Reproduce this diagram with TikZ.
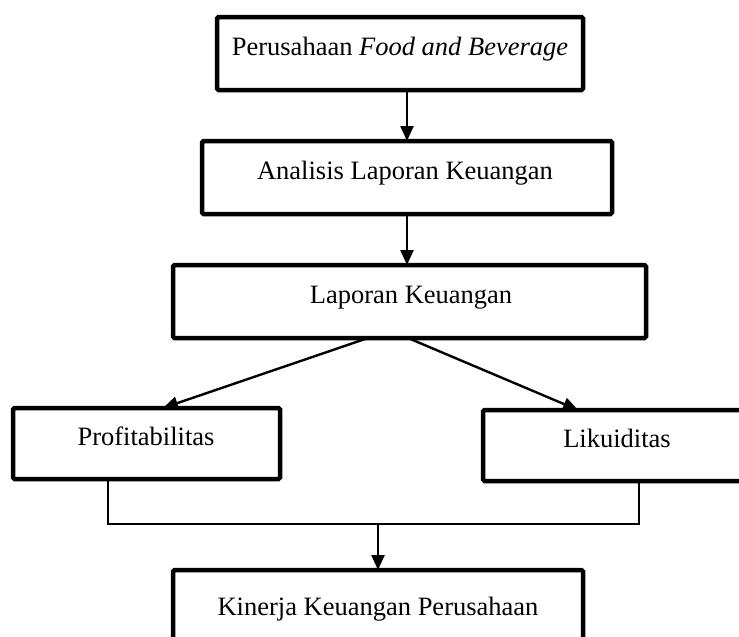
\documentclass[tikz,border=0pt]{standalone}
\usepackage{fontspec}
\setmainfont{Liberation Serif}
\usetikzlibrary{arrows.meta,calc}
\begin{document}
\begin{tikzpicture}[x=1pt,y=-1pt,
  box/.style={draw,line width=4.5pt,rounded corners=1.5pt,inner sep=0pt,outer sep=0pt,anchor=north west},
  lbl/.style={anchor=base,inner sep=0pt,font=\fontsize{26.5}{30}\selectfont},
  arr/.style={line width=2.4pt,-{Triangle[length=15pt,width=13pt]}},
  thin/.style={line width=1.3pt}]
\useasboundingbox (0,0) rectangle (739,637);
\clip (0,0) rectangle (739,637);
\fill[white] (0,0) rectangle (739,637);
% boxes
\node[box,minimum width=366pt,minimum height=73pt] (b1) at (217,17) {};
\node[box,minimum width=410pt,minimum height=73pt] (b2) at (202,141) {};
\node[box,minimum width=473pt,minimum height=73pt] (b3) at (173,265) {};
\node[box,minimum width=267pt,minimum height=71pt] (bP) at (13,408) {};
\node[box,minimum width=268pt,minimum height=71pt] (bL) at (483,410) {};
\node[box,minimum width=410pt,minimum height=75pt] (bK) at (173,570) {};
% labels
\node[lbl] (t1) at (400,55) {Perusahaan \textit{Food and Beverage}};
\node[lbl] (t2) at (405,179) {Analisis Laporan Keuangan};
\node[lbl] (t3) at (411,303) {Laporan Keuangan};
\node[lbl] (tP) at (146,445) {Profitabilitas};
\node[lbl] (tL) at (617,447) {Likuiditas};
\node[lbl] (tK) at (378,615) {Kinerja Keuangan Perusahaan};
% connectors
\draw[arr] (b1.south -| b2.north) -- (b2.north);
\draw[arr] (b2.south) -- (b2.south |- b3.north);
\draw[arr] ([xshift=-41.5pt]b3.south) -- ([xshift=16.5pt]bP.north);
\draw[arr] ([xshift=-1.5pt]b3.south) -- ([xshift=-39pt]bL.north);
\coordinate (jP) at ([xshift=-38.5pt]bP.south |- 0,524);
\coordinate (jL) at ([xshift=22pt]bL.south |- 0,524);
\draw[thin] ([xshift=-38.5pt]bP.south) -- (jP) -- (jL) -- ([xshift=22pt]bL.south);
\draw[arr] (jP -| bK.north) -- (bK.north);
\end{tikzpicture}
\end{document}
